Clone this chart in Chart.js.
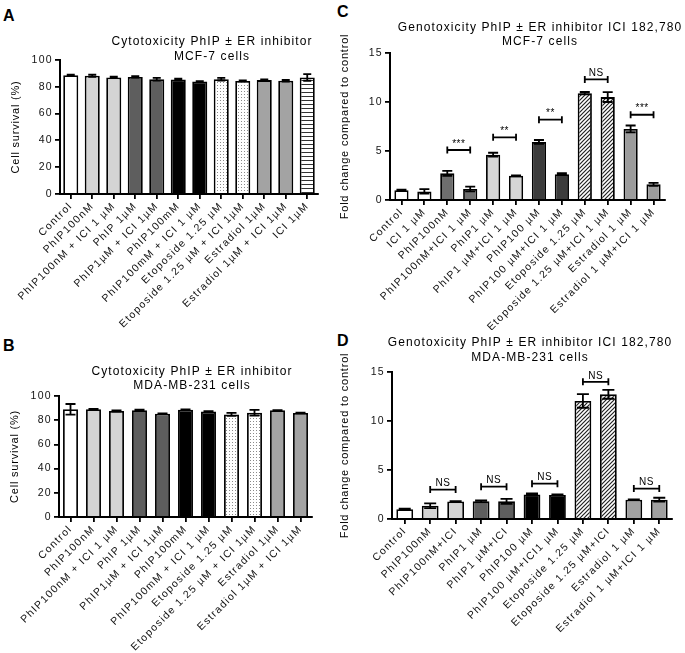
<!DOCTYPE html>
<html>
<head>
<meta charset="utf-8">
<script src="https://cdn.jsdelivr.net/npm/chart.js@4.4.1/dist/chart.umd.min.js"></script>
<style>
body { margin: 0; background: #fff; width: 685px; height: 653px; position: relative; overflow: hidden; }
canvas { position: absolute; }
.lt { position: absolute; font: bold 16px "Liberation Sans", Arial, sans-serif; line-height: 16px; color: #000; }
</style>
</head>
<body>
<div class="lt" style="left:3px;top:8px">A</div>
<div class="lt" style="left:337px;top:4px">C</div>
<div class="lt" style="left:3px;top:338px">B</div>
<div class="lt" style="left:337px;top:333px">D</div>
<canvas id="chartA" width="340" height="330" style="left:0;top:0"></canvas>
<canvas id="chartC" width="345" height="330" style="left:340px;top:0"></canvas>
<canvas id="chartB" width="340" height="323" style="left:0;top:330px"></canvas>
<canvas id="chartD" width="345" height="323" style="left:340px;top:330px"></canvas>
<script>
// ---- data ----
var labelsA = ['Control', 'PhIP100nM', 'PhIP100nM + ICI 1 µM', 'PhIP 1µM', 'PhIP1µM + ICI 1µM', 'PhIP100mM',
  'PhIP100mM + ICI 1 µM', 'Etoposide 1.25 µM', 'Etoposide 1.25 µM + ICI 1µM', 'Estradiol 1µM',
  'Estradiol 1µM + ICI 1µM', 'ICI 1µM'];
var valuesA = [88.6, 88.3, 87.0, 87.4, 85.6, 85.4, 84.0, 85.7, 84.4, 85.0, 84.5, 87.0];
var errorsA = [0.4, 0.8, 0.5, 0.5, 1.0, 0.6, 0.3, 1.0, 0.4, 0.6, 0.7, 2.5];

var labelsB = ['Control', 'PhIP100nM', 'PhIP100nM + ICI 1 µM', 'PhIP 1µM', 'PhIP1µM + ICI 1µM', 'PhIP100mM',
  'PhIP100mM + ICI 1 µM', 'Etoposide 1.25 µM', 'Etoposide 1.25 µM + ICI 1µM', 'Estradiol 1µM',
  'Estradiol 1µM + ICI 1µM'];
var valuesB = [89.0, 89.0, 87.6, 88.2, 85.4, 88.7, 87.1, 84.8, 86.2, 88.2, 86.0];
var errorsB = [4.4, 0.3, 0.4, 0.5, 0.3, 0.3, 0.3, 1.2, 2.3, 0.2, 0.3];

var labelsC = ['Control', 'ICI 1 µM', 'PhIP100nM', 'PhIP100nM+ICI 1 µM', 'PhIP1 µM', 'PhIP1 µM+ICI 1 µM',
  'PhIP100 µM', 'PhIP100 µM+ICI 1 µM', 'Etoposide 1.25 µM', 'Etoposide 1.25 µM+ICI 1 µM',
  'Estradiol 1 µM', 'Estradiol 1 µM+ICI 1 µM'];
var valuesC = [1.0, 0.88, 2.72, 1.12, 4.62, 2.47, 5.92, 2.63, 10.9, 10.5, 7.25, 1.6];
var errorsC = [0.05, 0.22, 0.25, 0.25, 0.2, 0.05, 0.2, 0.1, 0.12, 0.5, 0.35, 0.15];
var sigFromC = [2, 4, 6, 8, 10];
var sigToC = [3, 5, 7, 9, 11];
var sigYC = [5.1, 6.4, 8.2, 12.3, 8.7];
var sigTextC = ['***', '**', '**', 'NS', '***'];

var labelsD = ['Control', 'PhIP100nM', 'PhIP100nM+ICI', 'PhIP1 µM', 'PhIP1 µM+ICI', 'PhIP100 µM',
  'PhIP100 µM+ICI1 µM', 'Etoposide 1.25 µM', 'Etoposide 1.25 µM+ICI', 'Estradiol 1 µM',
  'Estradiol 1 µM+ICI 1 µM'];
var valuesD = [1.0, 1.35, 1.78, 1.8, 1.8, 2.5, 2.46, 12.05, 12.72, 1.97, 1.97];
var errorsD = [0.05, 0.25, 0.05, 0.1, 0.25, 0.1, 0.05, 0.7, 0.45, 0.02, 0.2];
var sigFromD = [1, 3, 5, 7, 9];
var sigToD = [2, 4, 6, 8, 10];
var sigYD = [3.0, 3.3, 3.6, 14.0, 3.1];
var sigTextD = ['NS', 'NS', 'NS', 'NS', 'NS'];

var fontFam = '"Liberation Sans", Arial, sans-serif';

// fill patterns like the GraphPad bars
function makePattern(w, h, draw) {
  var c = document.createElement('canvas');
  c.width = w; c.height = h;
  var g = c.getContext('2d');
  g.fillStyle = '#fff';
  g.fillRect(0, 0, w, h);
  draw(g);
  return c.getContext('2d').createPattern(c, 'repeat');
}
var dots = makePattern(3, 3, function (g) { g.fillStyle = '#8a8a8a'; g.fillRect(1, 1, 1, 1); });
var hatch = makePattern(4, 4, function (g) {
  g.strokeStyle = '#222'; g.lineWidth = 1.2;
  g.beginPath();
  g.moveTo(0, 4); g.lineTo(4, 0);
  g.moveTo(-1, 1); g.lineTo(1, -1);
  g.moveTo(3, 5); g.lineTo(5, 3);
  g.stroke();
});
var stripes = makePattern(1, 4, function (g) { g.fillStyle = '#333'; g.fillRect(0, 0, 1, 1); });

var colorsA = ['#fff', '#d4d4d4', '#d4d4d4', '#5e5e5e', '#5e5e5e', '#000', '#000', dots, dots, '#a3a3a3', '#a3a3a3', stripes];
var colorsB = ['#fff', '#d4d4d4', '#d4d4d4', '#5e5e5e', '#5e5e5e', '#000', '#000', dots, dots, '#a3a3a3', '#a3a3a3'];
var colorsC = ['#fff', '#fff', '#6e6e6e', '#6e6e6e', '#d6d6d6', '#d6d6d6', '#3c3c3c', '#3c3c3c', hatch, hatch, '#9c9c9c', '#9c9c9c'];
var colorsD = ['#fff', '#d4d4d4', '#d4d4d4', '#5e5e5e', '#5e5e5e', '#000', '#000', hatch, hatch, '#a0a0a0', '#a0a0a0'];

// titles and y axis title
var panelText = {
  id: 'panelText',
  beforeDraw: function (chart) {
    chart.ctx.letterSpacing = '1.3px';
  },
  afterDraw: function (chart, args, opts) {
    var ctx = chart.ctx;
    ctx.save();
    ctx.fillStyle = '#000';
    ctx.textAlign = 'center';
    ctx.textBaseline = 'middle';
    ctx.font = '12px ' + fontFam;
    ctx.letterSpacing = '1.1px';
    for (var i = 0; i < opts.title.length; i++) {
      ctx.fillText(opts.title[i], opts.titleX, opts.titleY[i]);
    }
    ctx.font = '11px ' + fontFam;
    ctx.letterSpacing = '0.8px';
    ctx.translate(opts.yTitleX, (chart.chartArea.top + chart.chartArea.bottom) / 2);
    ctx.rotate(-Math.PI / 2);
    ctx.fillText(opts.yTitle, 0, 0);
    ctx.restore();
    ctx.letterSpacing = '0px';
  }
};

// error bars + significance brackets
var errorBars = {
  id: 'errorBars',
  afterDatasetsDraw: function (chart, args, opts) {
    var ctx = chart.ctx;
    var meta = chart.getDatasetMeta(0);
    var y = chart.scales.y;
    var vals = chart.data.datasets[0].data;
    ctx.save();
    ctx.strokeStyle = '#000';
    ctx.lineWidth = 1.8;
    meta.data.forEach(function (bar, i) {
      var e = opts.errors[i];
      var top = y.getPixelForValue(vals[i] + e);
      var bot = y.getPixelForValue(vals[i] - e);
      ctx.beginPath();
      ctx.moveTo(bar.x, top); ctx.lineTo(bar.x, bot);
      ctx.moveTo(bar.x - opts.cap, top); ctx.lineTo(bar.x + opts.cap, top);
      ctx.moveTo(bar.x - opts.cap, bot); ctx.lineTo(bar.x + opts.cap, bot);
      ctx.stroke();
    });
    if (opts.sigFrom) {
      ctx.fillStyle = '#000';
      ctx.font = '10px ' + fontFam;
      ctx.letterSpacing = '0.5px';
      ctx.textAlign = 'center';
      ctx.textBaseline = 'bottom';
      for (var k = 0; k < opts.sigFrom.length; k++) {
        var x1 = meta.data[opts.sigFrom[k]].x;
        var x2 = meta.data[opts.sigTo[k]].x;
        var yp = y.getPixelForValue(opts.sigY[k]);
        ctx.beginPath();
        ctx.moveTo(x1, yp); ctx.lineTo(x2, yp);
        ctx.moveTo(x1, yp - 3.5); ctx.lineTo(x1, yp + 3.5);
        ctx.moveTo(x2, yp - 3.5); ctx.lineTo(x2, yp + 3.5);
        ctx.stroke();
        ctx.fillText(opts.sigText[k], (x1 + x2) / 2, yp - 1);
      }
    }
    ctx.restore();
  }
};

function makeChart(id, labels, values, colors, o) {
  return new Chart(document.getElementById(id), {
    type: 'bar',
    data: {
      labels: labels,
      datasets: [{
        data: values,
        backgroundColor: colors,
        borderColor: '#000',
        borderWidth: 1.8,
        barPercentage: o.barPct,
        categoryPercentage: 1
      }]
    },
    options: {
      responsive: false,
      animation: false,
      events: [],
      layout: { padding: { left: 0, right: o.padRight, top: o.top, bottom: 0 } },
      plugins: {
        legend: { display: false },
        tooltip: { enabled: false },
        panelText: { title: o.title, titleX: o.titleX, titleY: o.titleY, yTitle: o.yTitle, yTitleX: o.yTitleX },
        errorBars: { errors: o.errors, cap: o.cap, sigFrom: o.sigFrom, sigTo: o.sigTo, sigY: o.sigY, sigText: o.sigText }
      },
      scales: {
        x: {
          grid: { display: true, drawOnChartArea: false, offset: false, tickLength: 5, color: '#000', lineWidth: 1.8 },
          border: { color: '#000', width: 2 },
          ticks: { color: '#111', font: { size: 10.5, family: fontFam }, minRotation: 45, maxRotation: 45, autoSkip: false, padding: 1 },
          afterFit: function (s) { s.height = o.xHeight; }
        },
        y: {
          min: 0,
          max: o.max,
          grid: { drawOnChartArea: false, tickLength: 5, color: '#000', lineWidth: 1.8 },
          border: { color: '#000', width: 2 },
          ticks: { stepSize: o.step, color: '#111', font: { size: 10.5, family: fontFam }, padding: 2 },
          afterFit: function (s) { s.width = o.left; }
        }
      }
    },
    plugins: [panelText, errorBars]
  });
}

makeChart('chartA', labelsA, valuesA, colorsA, {
  left: 60, padRight: 22, top: 60, xHeight: 136, max: 100, step: 20, barPct: 0.7, cap: 4,
  errors: errorsA, title: ['Cytotoxicity PhIP ± ER inhibitor', 'MCF-7 cells'], titleX: 212, titleY: [42, 57],
  yTitle: 'Cell survival (%)', yTitleX: 16
});
makeChart('chartB', labelsB, valuesB, colorsB, {
  left: 59, padRight: 28, top: 66, xHeight: 136, max: 100, step: 20, barPct: 0.65, cap: 5,
  errors: errorsB, title: ['Cytotoxicity PhIP ± ER inhibitor', 'MDA-MB-231 cells'], titleX: 192, titleY: [42, 56],
  yTitle: 'Cell survival (%)', yTitleX: 15
});
makeChart('chartC', labelsC, valuesC, colorsC, {
  left: 50, padRight: 20, top: 53, xHeight: 130, max: 15, step: 5, barPct: 0.62, cap: 5,
  errors: errorsC, sigFrom: sigFromC, sigTo: sigToC, sigY: sigYC, sigText: sigTextC,
  title: ['Genotoxicity PhIP ± ER inhibitor ICI 182,780', 'MCF-7 cells'], titleX: 200, titleY: [28, 42],
  yTitle: 'Fold change compared to control', yTitleX: 5
});
makeChart('chartD', labelsD, valuesD, colorsD, {
  left: 52, padRight: 13, top: 42, xHeight: 134, max: 15, step: 5, barPct: 0.66, cap: 6,
  errors: errorsD, sigFrom: sigFromD, sigTo: sigToD, sigY: sigYD, sigText: sigTextD,
  title: ['Genotoxicity PhIP ± ER inhibitor ICI 182,780', 'MDA-MB-231 cells'], titleX: 190, titleY: [13, 28],
  yTitle: 'Fold change compared to control', yTitleX: 5
});
</script>
</body>
</html>
